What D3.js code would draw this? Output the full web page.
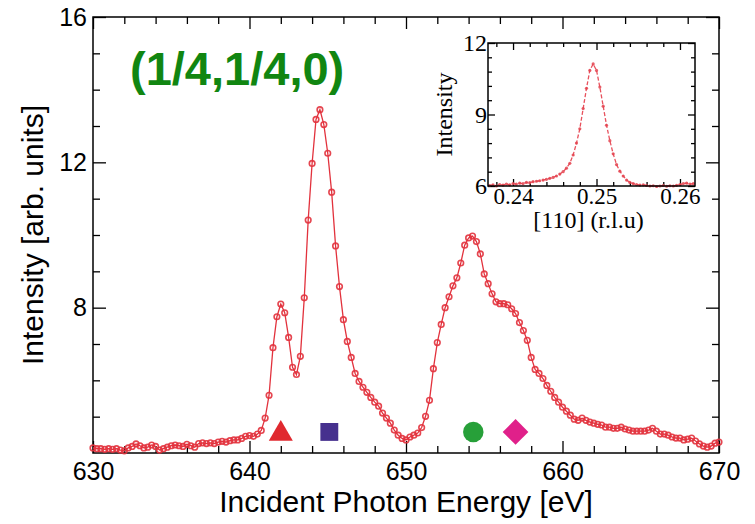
<!DOCTYPE html>
<html>
<head>
<meta charset="utf-8">
<script src="https://cdn.jsdelivr.net/npm/d3@7"></script>
<style>
  body { margin: 0; background: #fff; }
</style>
</head>
<body>
<div id="chart-area"></div>
<script>
// RIXS spectrum at (1/4,1/4,0), 0.25 eV steps from 630 eV
const E_START = 630, E_STEP = 0.25;
const intensity = [
  4.14, 4.12, 4.12, 4.10,  4.12, 4.10, 4.12, 4.08,  4.06, 4.14, 4.18, 4.25,
  4.20, 4.14, 4.16, 4.22,  4.18, 4.08, 4.12, 4.16,  4.20, 4.22, 4.20, 4.18,
  4.24, 4.20, 4.16, 4.26,  4.28, 4.26, 4.28, 4.26,  4.30, 4.32, 4.30, 4.34,
  4.36, 4.36, 4.40, 4.46,  4.48, 4.46, 4.52, 4.62,  4.96, 5.59, 6.90, 7.75,
  8.10, 7.86, 7.18, 6.36,  6.16, 6.66, 8.27, 10.41, 11.97, 13.18, 13.45, 13.04,
  12.25, 11.18, 9.70, 8.58, 7.67, 7.07, 6.63, 6.19, 5.97, 5.81, 5.67, 5.53,
  5.40, 5.29, 5.10, 4.96,  4.82, 4.63, 4.49, 4.40,  4.36, 4.44, 4.49, 4.55,
  4.70, 5.01, 5.45, 6.32,  7.04, 7.54, 8.00, 8.30,  8.60, 8.82, 9.23, 9.72,
  9.92, 9.97, 9.82, 9.48,  8.93, 8.66, 8.38, 8.16,  8.11, 8.11, 8.08, 7.97,
  7.84, 7.59, 7.37, 7.10,  6.63, 6.30, 6.19, 6.05,  5.86, 5.70, 5.53, 5.40,
  5.26, 5.15, 5.04, 4.93,  4.90, 4.96, 4.90, 4.85,  4.82, 4.79, 4.77, 4.71,
  4.71, 4.68, 4.68, 4.71,  4.66, 4.63, 4.60, 4.60,  4.60, 4.60, 4.63, 4.68,
  4.60, 4.52, 4.52, 4.49,  4.44, 4.41, 4.41, 4.36,  4.38, 4.41, 4.33, 4.25,
  4.19, 4.16, 4.19, 4.27,  4.30
];

// excitation energies marked under the curve
const markerEnergy = [642.0, 645.1, 654.3, 657.0];
const markerLevel = 4.58;
const markerShape = ["triangle", "square", "circle", "diamond"];
const markerColor = ["#e0292f", "#46308e", "#27a039", "#e0208a"];

// inset: Q scan along [110], 0.0004 r.l.u. steps from 0.2372
const Q_START = 0.2372, Q_STEP = 0.0004;
const qIntensity = [
  6.02, 6.05, 6.00, 6.06, 6.04, 6.08, 6.05, 6.10, 6.08, 6.12,
  6.10, 6.15, 6.14, 6.18, 6.20, 6.22, 6.25, 6.28, 6.32, 6.36,
  6.42, 6.50, 6.60, 6.75, 6.95, 7.30, 7.80, 8.40, 9.25, 10.10,
  10.85, 11.12, 10.85, 10.15, 9.35, 8.55, 7.90, 7.35, 6.90, 6.62,
  6.42, 6.25, 6.15, 6.10, 6.06, 6.04, 6.05, 6.02, 6.00, 6.01,
  5.98, 6.00, 6.02, 5.99, 6.01, 6.00, 6.03, 6.06, 6.10, 6.12,
  6.08, 6.10
];

const xTicksMajor = [630, 640, 650, 660, 670];
const yTicksMajor = [8, 12, 16];
const qTicksMajor = [0.24, 0.25, 0.26];
const qYTicksMajor = [6, 9, 12];

const SANS = "'Liberation Sans', Arial, Helvetica, sans-serif";
const SERIF = "'Liberation Serif', 'Times New Roman', serif";
const RED = "#e2323d";

const svg = d3.select("#chart-area").append("svg")
    .attr("width", 755)
    .attr("height", 524);

let mainLeft = 93, mainRight = 719, mainTop = 17, mainBottom = 453;

const x = d3.scaleLinear().domain([630, 670]).range([mainLeft, mainRight]);
const y = d3.scaleLinear().domain([4, 16]).range([mainBottom, mainTop]);

// inward ticks, optional labels
function addTicks(g, gen, vals, size, pad, fmt, font, fsize) {
    g.call(gen.tickValues(vals).tickSizeInner(-size).tickSizeOuter(0)
        .tickPadding(pad).tickFormat(fmt));
    g.select(".domain").remove();
    g.selectAll("line").attr("stroke", "#000").attr("stroke-width", 1.3);
    g.selectAll("text").attr("font-family", font).attr("font-size", fsize).attr("fill", "#000");
}
const none = () => "";

// main axes
let xMinor = d3.range(632, 670, 2).filter(v => v % 10 !== 0);
let yMinor = d3.range(5, 16, 1).filter(v => v % 4 !== 0);

let gb = svg.append("g").attr("transform", `translate(0,${mainBottom})`);
addTicks(gb.append("g"), d3.axisBottom(x), xMinor, 7, 9, none, SANS, 25);
addTicks(gb.append("g"), d3.axisBottom(x), xTicksMajor, 12, 9, d3.format("d"), SANS, 25);
let gt = svg.append("g").attr("transform", `translate(0,${mainTop})`);
addTicks(gt.append("g"), d3.axisTop(x), xMinor, 7, 0, none, SANS, 25);
addTicks(gt.append("g"), d3.axisTop(x), xTicksMajor, 12, 0, none, SANS, 25);
let gl = svg.append("g").attr("transform", `translate(${mainLeft},0)`);
addTicks(gl.append("g"), d3.axisLeft(y), yMinor, 7, 6, none, SANS, 25);
addTicks(gl.append("g"), d3.axisLeft(y), yTicksMajor, 13, 6, d3.format("d"), SANS, 25);
let gr = svg.append("g").attr("transform", `translate(${mainRight},0)`);
addTicks(gr.append("g"), d3.axisRight(y), yMinor, 7, 0, none, SANS, 25);
addTicks(gr.append("g"), d3.axisRight(y), yTicksMajor, 13, 0, none, SANS, 25);

svg.append("rect")
    .attr("x", mainLeft).attr("y", mainTop)
    .attr("width", mainRight - mainLeft).attr("height", mainBottom - mainTop)
    .attr("fill", "none").attr("stroke", "#000").attr("stroke-width", 1.5);

// axis titles
svg.append("text")
    .attr("x", (mainLeft + mainRight) / 2).attr("y", 512)
    .attr("text-anchor", "middle")
    .attr("font-family", SANS).attr("font-size", 30)
    .text("Incident Photon Energy [eV]");
svg.append("text")
    .attr("transform", `translate(43,${(mainTop + mainBottom) / 2}) rotate(-90)`)
    .attr("text-anchor", "middle")
    .attr("font-family", SANS).attr("font-size", 30)
    .text("Intensity [arb. units]");

svg.append("text")
    .attr("x", 130).attr("y", 85)
    .attr("font-family", SANS).attr("font-size", 47).attr("font-weight", "bold")
    .attr("fill", "#118611")
    .text("(1/4,1/4,0)");

// spectrum
let spectrum = intensity.map((v, i) => ({e: E_START + i * E_STEP, v: v}));
let line = d3.line().x(d => x(d.e)).y(d => y(d.v));
svg.append("path")
    .datum(spectrum)
    .attr("d", line)
    .attr("fill", "none").attr("stroke", RED).attr("stroke-width", 1.3);
svg.append("g").selectAll("circle")
    .data(spectrum).join("circle")
    .attr("cx", d => x(d.e)).attr("cy", d => y(d.v))
    .attr("r", 2.8)
    .attr("fill", "none").attr("stroke", RED).attr("stroke-width", 1.6)
    .attr("opacity", 0.9);

// symbols
const symbolType = {triangle: d3.symbolTriangle, square: d3.symbolSquare,
                    circle: d3.symbolCircle, diamond: d3.symbolSquare};
const symbolSize = {triangle: 250, square: 320, circle: 330, diamond: 330};
svg.append("g").selectAll("path")
    .data(markerEnergy).join("path")
    .attr("d", (d, i) => d3.symbol(symbolType[markerShape[i]], symbolSize[markerShape[i]])())
    .attr("transform", (d, i) => {
        let t = `translate(${x(d)},${y(markerLevel) + (markerShape[i] === "triangle" ? 2 : 0)})`;
        return markerShape[i] === "diamond" ? t + " rotate(45)" : t;
    })
    .attr("fill", (d, i) => markerColor[i]);

// inset
let inLeft = 488, inRight = 695, inTop = 43, inBottom = 186;
const qx = d3.scaleLinear().domain([0.237, 0.2618]).range([inLeft, inRight]);
const qy = d3.scaleLinear().domain([6, 12]).range([inBottom, inTop]);

svg.append("rect")
    .attr("x", inLeft).attr("y", inTop)
    .attr("width", inRight - inLeft).attr("height", inBottom - inTop)
    .attr("fill", "#fff");

let qMinor = d3.range(0.238, 0.2615, 0.002).filter(v => Math.abs(v * 100 - Math.round(v * 100)) > 1e-6);
let qYMinor = d3.range(6.6, 11.9, 0.6).filter(v => Math.abs(v - 9) > 1e-6);

let ib = svg.append("g").attr("transform", `translate(0,${inBottom})`);
addTicks(ib.append("g"), d3.axisBottom(qx), qMinor, 4, 2, none, SERIF, 23);
addTicks(ib.append("g"), d3.axisBottom(qx), qTicksMajor, 7, 2, d3.format(".2f"), SERIF, 23);
let it = svg.append("g").attr("transform", `translate(0,${inTop})`);
addTicks(it.append("g"), d3.axisTop(qx), qMinor, 4, 0, none, SERIF, 23);
addTicks(it.append("g"), d3.axisTop(qx), qTicksMajor, 7, 0, none, SERIF, 23);
let il = svg.append("g").attr("transform", `translate(${inLeft},0)`);
addTicks(il.append("g"), d3.axisLeft(qy), qYMinor, 4, 1, none, SERIF, 24);
addTicks(il.append("g"), d3.axisLeft(qy), qYTicksMajor, 7, 1, d3.format("d"), SERIF, 24);
let ir = svg.append("g").attr("transform", `translate(${inRight},0)`);
addTicks(ir.append("g"), d3.axisRight(qy), qYMinor, 4, 0, none, SERIF, 24);
addTicks(ir.append("g"), d3.axisRight(qy), qYTicksMajor, 7, 0, none, SERIF, 24);

let scan = qIntensity.map((v, i) => ({q: Q_START + i * Q_STEP, v: v}));
let qline = d3.line().x(d => qx(d.q)).y(d => qy(d.v));
svg.append("path")
    .datum(scan)
    .attr("d", qline)
    .attr("fill", "none").attr("stroke", "#e8525e").attr("stroke-width", 1.3)
    .attr("stroke-dasharray", "4,2");
svg.append("g").selectAll("circle")
    .data(scan).join("circle")
    .attr("cx", d => qx(d.q)).attr("cy", d => qy(d.v))
    .attr("r", 1.6)
    .attr("fill", "#e4434f").attr("opacity", 0.85);

svg.append("rect")
    .attr("x", inLeft).attr("y", inTop)
    .attr("width", inRight - inLeft).attr("height", inBottom - inTop)
    .attr("fill", "none").attr("stroke", "#000").attr("stroke-width", 1.5);

svg.append("text")
    .attr("x", (inLeft + inRight) / 2 - 3).attr("y", 228)
    .attr("text-anchor", "middle")
    .attr("font-family", SERIF).attr("font-size", 24)
    .text("[110] (r.l.u)");
svg.append("text")
    .attr("transform", `translate(452,${(inTop + inBottom) / 2}) rotate(-90)`)
    .attr("text-anchor", "middle")
    .attr("font-family", SERIF).attr("font-size", 24)
    .text("Intensity");
</script>
</body>
</html>
